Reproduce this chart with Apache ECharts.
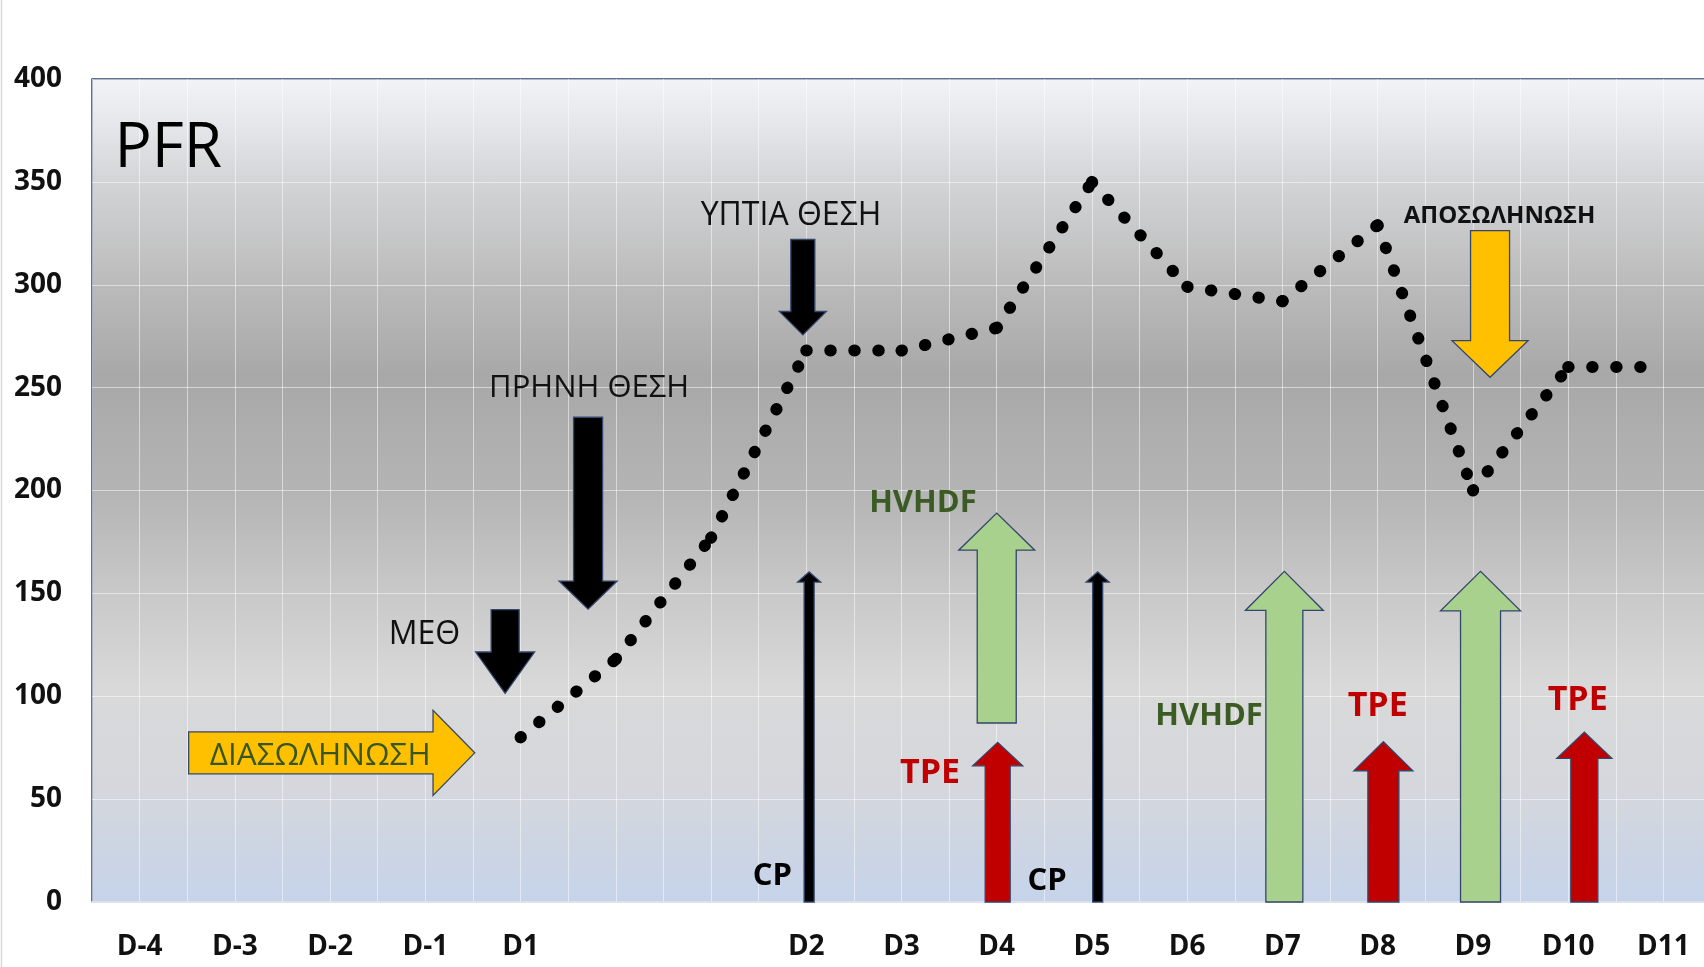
<!DOCTYPE html>
<html>
<head>
<meta charset="utf-8">
<script src="https://cdn.jsdelivr.net/npm/echarts@6/dist/echarts.min.js"></script>
<style>
html,body{margin:0;padding:0;background:#fff;}
#c{width:1704px;height:967px;}
</style>
</head>
<body>
<div id="c"></div>
<script>
// ---- data ----
const days = ['D-4','D-3','D-2','D-1','D1','','','D2','D3','D4','D5','D6','D7','D8','D9','D10','D11'];
const pfr  = [null,null,null,null,80,118,177,268,268,279,350,299,292,329,200,260,260];
const yMin = 0, yMax = 400, yStep = 50;

// ---- annotations (x in day units, y in PFR units) ----
const arrowKind  = ['h','v','v','v','v','v','v','v','v','v','v','v','v'];
const arrowAt    = [72.5, 3.838, 4.709, 6.964, 14.18, 7.03, 10.06, 9.0, 9.01, 12.02, 13.06, 14.08, 15.17];
const arrowTail  = [0.515, 142.1, 235.6, 322, 326.3, 0, 0, 87, 0, 0, 0, 0, 0];
const arrowBase  = [3.081, 121.5, 156, 287, 272.8, 155.5, 155.5, 171, 66.2, 141.7, 63.8, 141.5, 69.8];
const arrowTip   = [3.519, 101.4, 142.3, 275.6, 255, 160.4, 160.4, 189, 77.6, 160.7, 77.9, 160.7, 82.5];
const arrowBody  = [42, 28, 29, 24, 39, 10, 10, 39, 25, 37, 31, 40, 27];
const arrowHead  = [85, 59, 58, 47, 76, 23, 23, 76, 50, 78, 59, 80, 55];
const arrowFill  = ['#ffc000','#000000','#000000','#000000','#ffc000','#000000','#000000','#a9d18e','#c00000','#a9d18e','#c00000','#a9d18e','#c00000'];

const noteText  = ['PFR','ΜΕΘ','ΠΡΗΝΗ ΘΕΣΗ','ΥΠΤΙΑ ΘΕΣΗ','ΑΠΟΣΩΛΗΝΩΣΗ','ΔΙΑΣΩΛΗΝΩΣΗ','HVHDF','HVHDF','TPE','TPE','TPE','CP','CP'];
const noteX     = [-0.263, 2.99, 4.72, 6.84, 14.28, 1.896, 8.225, 11.23, 8.3, 13.0, 15.1, 6.645, 9.53];
const noteY     = [366, 129.6, 249.8, 333.4, 333.1, 70.9, 194, 90.4, 62.5, 95.3, 97.8, 12.6, 9.9];
const noteSize  = [62, 32, 31, 32, 24, 31.5, 31, 31, 34, 34, 34, 31, 31];
const noteBold  = [false,false,false,false,true,false,true,true,true,true,true,true,true];
const noteColor = ['#000','#111','#111','#111','#111','#375623','#3b5b25','#3b5b25','#c00000','#c00000','#c00000','#000','#000'];
const noteAlign = ['left','center','center','center','center','center','center','center','center','center','center','center','center'];

const FONT = '"Open Sans", "Noto Sans", sans-serif';

// segments of the dotted line (each restarts the dot pattern, as in the source)
const segData = [];
for (let i = 0; i < pfr.length - 1; i++) {
  if (pfr[i] != null && pfr[i + 1] != null) segData.push([i, pfr[i], i + 1, pfr[i + 1]]);
}
const arrowData = arrowKind.map((k, i) => [i, 0, i]);
const noteData = noteText.map((t, i) => [noteX[i], noteY[i], i]);

const chart = echarts.init(document.getElementById('c'), null, {renderer: 'canvas'});
chart.setOption({
  animation: false,
  backgroundColor: '#ffffff',
  grid: {
    left: 92, top: 79, width: 1619, height: 823,
    outerBoundsMode: 'none',
    containLabel: false,
    show: true,
    borderColor: '#2f4470', borderWidth: 1.5,
    backgroundColor: {
      type: 'linear', x: 0, y: 0, x2: 0, y2: 1,
      colorStops: [
        {offset: 0.00, color: '#f2f3f7'},
        {offset: 0.06, color: '#e5e6e9'},
        {offset: 0.13, color: '#d2d3d5'},
        {offset: 0.25, color: '#bbbbbb'},
        {offset: 0.36, color: '#a8a8a8'},
        {offset: 0.50, color: '#b4b4b4'},
        {offset: 0.62, color: '#c8c8c8'},
        {offset: 0.74, color: '#d9d9d9'},
        {offset: 0.87, color: '#d4d7dd'},
        {offset: 1.00, color: '#c5d3ea'}
      ]
    }
  },
  xAxis: {
    type: 'value', min: -0.5, max: 16.5, interval: 0.5,
    axisLine: {show: true, lineStyle: {color: '#dce2ec', width: 2}},
    axisTick: {show: false},
    splitLine: {show: true, lineStyle: {color: 'rgba(255,255,255,0.5)', width: 1}},
    axisLabel: {
      margin: 31, fontSize: 28, fontWeight: 'bold', color: '#111', fontFamily: FONT,
      formatter: v => (Number.isInteger(v) && days[v] !== undefined) ? days[v] : ''
    }
  },
  yAxis: {
    type: 'value', min: yMin, max: yMax, interval: yStep,
    axisLine: {show: false},
    axisTick: {show: false},
    splitLine: {show: true, lineStyle: {color: 'rgba(255,255,255,0.5)', width: 1}},
    axisLabel: {margin: 30, fontSize: 28, fontWeight: 'bold', color: '#111', fontFamily: FONT, padding: [4, 0, 0, 0]}
  },
  graphic: [{type: 'line', shape: {x1: 1.5, y1: 0, x2: 1.5, y2: 967}, style: {stroke: '#d9d9d9', lineWidth: 1.5}}],
  series: [
    {
      type: 'custom', name: 'arrows', z: 3, clip: false,
      data: arrowData,
      renderItem: (params, api) => {
        const i = api.value(2);
        const bw = arrowBody[i] / 2, hw = arrowHead[i] / 2;
        let pts;
        if (arrowKind[i] === 'h') {
          const t = api.coord([arrowTail[i], arrowAt[i]]);
          const b = api.coord([arrowBase[i], arrowAt[i]]);
          const p = api.coord([arrowTip[i], arrowAt[i]]);
          const cy = t[1];
          pts = [[t[0], cy - bw], [b[0], cy - bw], [b[0], cy - hw], [p[0], cy], [b[0], cy + hw], [b[0], cy + bw], [t[0], cy + bw]];
        } else {
          const t = api.coord([arrowAt[i], arrowTail[i]]);
          const b = api.coord([arrowAt[i], arrowBase[i]]);
          const p = api.coord([arrowAt[i], arrowTip[i]]);
          const cx = t[0];
          pts = [[cx - bw, t[1]], [cx - bw, b[1]], [cx - hw, b[1]], [cx, p[1]], [cx + hw, b[1]], [cx + bw, b[1]], [cx + bw, t[1]]];
        }
        return {type: 'polygon', shape: {points: pts},
          style: {fill: arrowFill[i], stroke: '#34466b', lineWidth: 1.3, lineJoin: 'miter'}};
      }
    },
    {
      type: 'custom', name: 'PFR', z: 4, clip: false,
      data: segData,
      encode: {x: [0, 2], y: [1, 3]},
      renderItem: (params, api) => {
        const a = api.coord([api.value(0), api.value(1)]);
        const b = api.coord([api.value(2), api.value(3)]);
        return {type: 'line', shape: {x1: a[0], y1: a[1], x2: b[0], y2: b[1]},
          style: {stroke: '#000', lineWidth: 12, lineDash: [0.5, 23.5], lineCap: 'round'}};
      }
    },
    {
      type: 'custom', name: 'notes', z: 5, clip: false,
      data: noteData,
      renderItem: (params, api) => {
        const i = api.value(2);
        const p = api.coord([api.value(0), api.value(1)]);
        return {type: 'text', x: p[0], y: p[1],
          style: {text: noteText[i], fill: noteColor[i],
            font: (noteBold[i] ? 'bold ' : '') + noteSize[i] + 'px ' + FONT,
            align: noteAlign[i], verticalAlign: 'middle'}};
      }
    }
  ]
});
</script>
</body>
</html>
